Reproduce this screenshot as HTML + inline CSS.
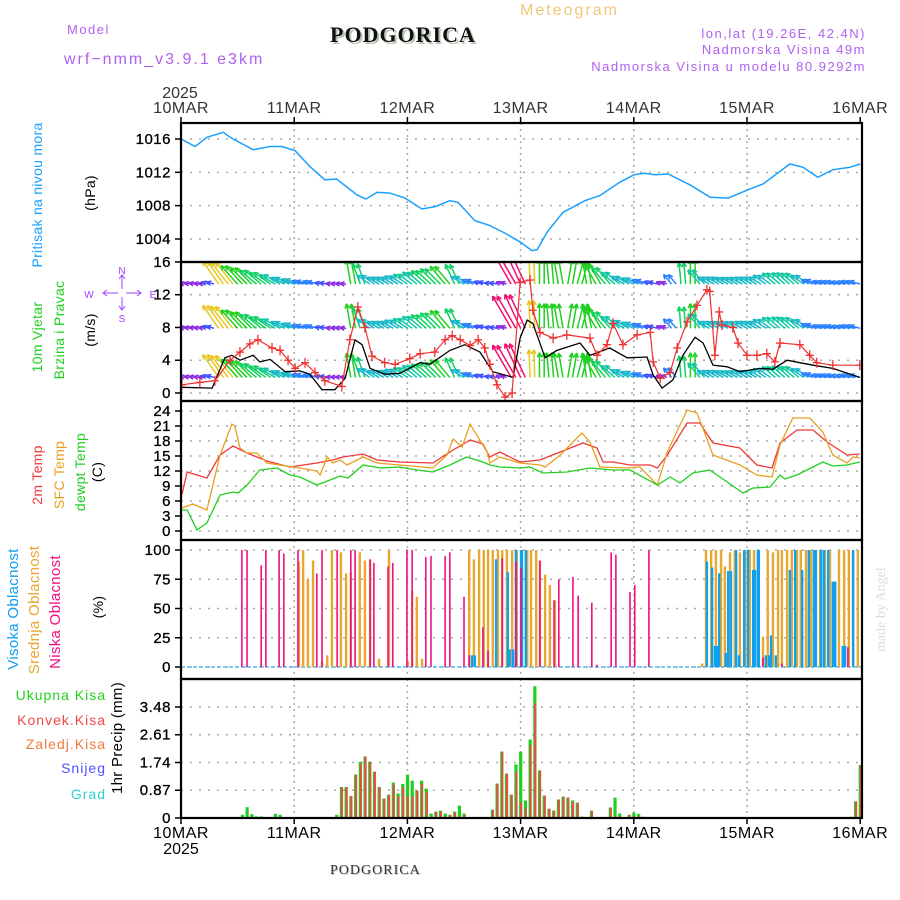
<!DOCTYPE html>
<html><head><meta charset="utf-8">
<style>
html,body{margin:0;padding:0;background:#fff;}
svg{display:block;font-family:"Liberation Sans",sans-serif;}
</style></head>
<body>
<svg id="chart" width="900" height="900" viewBox="0 0 900 900" xmlns="http://www.w3.org/2000/svg">
<text x="67" y="34" font-size="13" fill="#b060f0" letter-spacing="1.5">Model</text>
<text x="64" y="64" font-size="16" fill="#b060f0" letter-spacing="2">wrf−nmm_v3.9.1 e3km</text>
<text x="332" y="44" font-size="22" font-weight="bold" font-family="Liberation Serif,serif" fill="#b8c8b0" letter-spacing="1">PODGORICA</text>
<text x="330" y="42" font-size="22" font-weight="bold" font-family="Liberation Serif,serif" fill="#111" letter-spacing="1">PODGORICA</text>
<text x="520" y="15" font-size="16" fill="#f0c878" letter-spacing="2">Meteogram</text>
<text x="866" y="38" font-size="13" fill="#b060f0" text-anchor="end" letter-spacing="1.5">lon,lat (19.26E, 42.4N)</text>
<text x="866" y="54" font-size="13" fill="#b060f0" text-anchor="end" letter-spacing="1.5">Nadmorska Visina 49m</text>
<text x="866" y="71" font-size="13" fill="#b060f0" text-anchor="end" letter-spacing="1.5">Nadmorska Visina u modelu 80.9292m</text>
<text x="331" y="875" font-size="14" font-family="Liberation Serif,serif" fill="#c8c8c8" letter-spacing="1">PODGORICA</text>
<text x="330" y="874" font-size="14" font-family="Liberation Serif,serif" fill="#333" letter-spacing="1">PODGORICA</text>
<text transform="translate(885,652) rotate(-90)" font-size="14" font-family="Liberation Serif,serif" fill="#dcdcdc">made by Angel</text>
<g id="axes"></g>
</svg>
<script>
// ---------- DATA ----------
const dayLabels = ["10MAR","11MAR","12MAR","13MAR","14MAR","15MAR","16MAR"];
const presHours = [0,3,5.5,9,10.4,15.3,18.9,21.4,24.2,27.3,30.5,33,37.3,39.2,41.6,44.3,47.5,51.1,54,57,58.7,62.3,65.5,68.7,72,74.4,75.5,77.6,81,85.7,88.8,93,96,98.2,100.5,103.3,107.9,112.2,116,120.2,123.4,129.1,131.9,135,138.2,141.8,144];
const presVals = [1016.0,1015.1,1016.2,1016.8,1016.2,1014.7,1015.1,1015.1,1014.6,1012.7,1011.1,1011.2,1009.3,1008.8,1009.6,1009.5,1008.9,1007.6,1007.9,1008.6,1008.4,1006.2,1005.6,1004.7,1003.6,1002.6,1002.7,1004.8,1007.2,1008.6,1009.2,1010.8,1011.7,1011.9,1011.7,1011.8,1010.5,1009.0,1008.9,1009.9,1010.6,1013.0,1012.6,1011.4,1012.3,1012.6,1013.0];
const presTicks = [1004,1008,1012,1016];

const spdHours = [0.2,6.6,9.3,10.8,12.5,15.3,16.7,18.9,22.1,25.2,27.3,29.9,32.6,34.8,36.9,38.4,40.1,43.2,46.4,50.7,52.8,57.0,60.2,63.4,66.1,70.4,71.9,73.4,74.6,77.2,79.7,84.6,86.7,90.9,94.6,98.8,100.1,102.0,104.3,106.4,109.0,110.7,112.8,115.8,118.5,122.7,125.5,128.5,131.2,134.0,138.2,143.9];
const spdVals = [0.7,0.6,4.3,4.6,4.0,4.6,3.8,4.1,2.6,2.7,2.3,0.4,0.4,1.8,6.5,5.9,3.0,2.3,2.4,3.7,3.5,5.2,5.9,5.0,2.6,1.9,6.7,8.9,8.5,4.3,5.2,6.1,4.6,5.5,4.3,4.4,2.2,0.6,1.6,4.6,6.8,6.1,3.4,3.2,2.6,3.0,2.9,4.0,3.7,3.4,3.0,1.9];
const gustHours = [0.2,4.0,7.2,10.4,12.5,14.6,16.3,19.3,21.0,22.7,24.2,26.3,28.4,30.5,34.1,35.8,37.5,39.0,40.5,43.2,45.4,48.5,50.7,53.8,56.0,57.5,59.2,61.3,63.0,64.4,65.5,67.0,68.7,70.2,71.9,74.0,74.6,76.1,78.9,81.8,86.7,88.2,90.3,91.6,93.7,96.7,99.5,100.1,101.6,103.7,105.2,107.3,109.4,111.5,112.1,113.2,114.1,114.7,117.0,118.1,120.0,122.1,124.2,125.9,127.0,131.2,133.3,134.8,138.2,143.9];
const gustVals = [1.0,1.3,1.5,4.0,5.0,6.0,6.5,5.5,5.2,4.0,3.0,3.7,2.5,1.5,0.8,6.5,10.5,8.0,4.5,3.7,3.5,4.2,4.8,5.0,6.5,7.0,6.5,5.8,6.5,5.5,3.5,1.0,-0.5,0,13.5,13.8,10.1,7.4,6.7,7.1,6.7,4.6,5.9,8.5,5.9,7.1,7.4,3.8,1.8,2.5,5.5,8.7,10.7,12.6,12.4,4.6,9.9,8.3,8.0,6.1,4.6,4.6,4.8,3.8,6.1,5.9,4.6,3.7,3.4,3.4];
const windHours = [0,2,4,6,8,10,12,14,16,18,20,22,24,26,28,30,32,34,36,38,40,42,44,46,48,50,52,54,56,58,60,62,64,66,68,70,72,74,76,78,80,82,84,86,88,90,92,94,96,98,100,102,104,106,108,110,112,114,116,118,120,122,124,126,128,130,132,134,136,138,140,142,144];
const windSpd = [2,2,2,2.5,9,9,8,7.5,7,6.5,6,5,4.5,4,3.5,2.5,2,2,8,7,5,4.5,4.5,5,5.5,6,6.5,7,7.5,7,5,4,3,2.5,2,12,12,9,8,8,8,8,8,8,7.5,7,6,5,4.5,4,3,2,4,7,8,6,4.5,4.5,4.5,4.5,4.5,4.5,5,5.5,5.5,5.5,5,4,3.5,3.5,3.5,3.5,3.5];
const windDir = [170,170,172,165,125,128,132,135,140,145,150,155,160,165,165,170,175,175,100,110,145,150,150,148,145,140,138,135,130,115,150,160,165,170,160,120,115,92,90,95,100,80,75,100,120,130,140,150,155,160,165,160,130,95,90,130,150,150,152,152,150,150,145,140,138,140,145,160,165,165,168,165,165];
const windTicks = [0,4,8,12,16];

const t2Hours = [0.2,1.3,5.5,8.3,11.0,14.0,18.2,23.1,28.8,32.2,34.3,38.6,41.6,46.4,53.4,57.0,61.3,64.0,65.5,67.6,71.9,76.1,80.4,85.2,88.2,89.5,91.6,95.2,99.5,101.0,103.1,107.3,110.0,112.8,118.5,122.1,125.3,127.0,130.6,134.0,137.0,141.2,143.9];
const t2Vals = [7.2,11.8,10.6,15.2,17.0,15.6,14.0,12.8,13.6,14.2,14.8,15.4,14.2,13.8,13.6,15.8,18.2,17.4,14.8,15.8,13.8,14.2,15.8,17.6,16.6,13.8,13.8,13.2,13.2,12.6,15.2,21.6,21.6,17.6,16.6,13.2,12.6,17.6,20.2,20.2,17.8,15.2,15.4];
const sfcHours = [0.2,2.5,5.5,8.3,10.8,11.4,12.5,14.0,16.1,18.2,25.2,28.8,29.5,31.0,32.2,33.7,35.2,38.6,41.6,53.4,56.4,57.7,59.6,61.3,64.9,65.5,67.6,71.9,76.1,77.2,80.4,85.0,86.7,88.8,94.6,97.3,101.0,103.1,107.3,109.4,112.8,118.5,122.1,125.3,127.0,129.7,133.3,136.1,138.2,141.2,142.5,143.9];
const sfcVals = [4.6,5.4,4.2,15.2,21.4,21.0,16.6,15.6,15.6,13.6,12.6,12.0,11.2,14.8,13.6,14.2,13.2,14.8,13.6,12.6,15.2,18.4,16.8,21.4,15.8,13.6,14.8,13.6,13.2,12.8,15.2,19.6,17.8,12.8,12.6,12.8,9.2,15.8,24.2,23.6,15.2,13.2,11.2,10.8,17.2,22.6,22.6,19.8,15.2,13.6,14.8,14.6];
const dewHours = [0.2,1.3,3.4,5.5,8.3,11.0,12.1,14.0,16.7,20.4,23.1,25.2,28.8,31.6,33.7,35.4,38.6,42.2,46.4,50.0,53.4,57.0,60.6,64.0,65.5,67.6,71.9,74.0,76.7,81.8,86.7,91.6,95.2,101.0,103.7,105.8,108.5,112.1,115.8,119.1,121.3,124.9,127.0,128.0,130.6,136.1,138.2,141.2,143.9];
const dewVals = [4.2,4.2,0.2,1.6,7.2,7.8,7.6,9.2,12.2,12.6,11.2,10.8,9.2,10.2,11.0,10.6,13.2,12.6,12.8,12.2,11.8,13.2,14.8,13.8,13.2,12.8,12.6,12.8,11.6,11.8,12.6,12.2,12.2,9.2,10.8,9.6,11.6,12.2,9.8,7.6,8.6,8.8,11.2,10.4,11.2,13.8,13.0,13.2,13.8];
const tempTicks = [0,3,6,9,12,15,18,21,24];

const lowHours = [12.9,14.0,17.0,18.0,20.8,21.8,24.8,28.8,29.9,33.1,36.0,36.9,40.1,40.9,43.9,44.9,47.9,49.0,51.9,53.0,56.0,57.0,60.0,61.1,64.0,65.1,68.1,71.0,72.1,76.1,79.1,80.1,83.1,84.2,87.1,88.2,91.2,92.2,95.2,96.2,99.2,123.4,127.4,141.4];
const lowVals = [100,100,87,100,100,97,100,80,100,100,100,100,92,89,86,89,100,100,94,95,95,98,60,10,34,14,93,90,85,91,57,75,77,61,55,2,98,96,64,70,100,8,3,17];
const midHours = [25.0,25.9,26.9,28.0,29.9,31.0,32.0,33.9,35.0,36.0,37.9,39.0,40.1,42.0,44.1,48.1,49.0,50.0,51.1,61.1,62.1,63.2,64.2,65.1,66.1,67.2,68.1,69.1,70.2,71.2,73.4,74.2,75.3,76.1,77.2,78.2,79.3,110.5,111.3,112.4,113.4,114.5,115.3,116.4,117.4,118.5,119.6,120.6,121.5,122.5,123.4,124.4,125.5,126.6,127.4,128.5,129.5,130.6,131.4,132.5,133.6,134.6,135.5,136.5,137.6,138.6,139.5,140.6,141.6,142.5,143.5];
const midVals = [90,100,75,91,5,10,100,98,80,81,98,91,92,7,100,5,65,60,7,100,92,100,100,100,100,100,100,100,100,100,100,100,100,91,79,70,57,3,100,100,100,100,86,98,100,98,100,100,100,18,26,100,98,100,100,100,100,100,100,100,100,100,100,100,100,73,100,100,100,100,100];
const highHours = [61.7,62.3,66.8,69.3,69.7,70.4,71.0,72.1,72.3,73.1,111.5,112.6,113.2,113.6,114.1,115.5,116.0,116.6,117.7,118.3,119.4,120.2,121.3,121.7,122.3,122.5,124.0,124.7,125.1,126.1,129.1,130.2,131.7,133.1,134.2,134.6,135.7,136.3,137.2,138.2,138.7,140.3,140.8,142.5];
const highVals = [10,10,92,81,15,15,100,100,100,100,90,85,18,18,80,12,82,82,100,10,100,100,83,83,100,100,10,10,27,10,83,100,83,100,100,100,100,100,100,73,73,18,18,100];
const cloudTicks = [0,25,50,75,100];

const precHours = [13,14,15,16,17,20,21,33,34,35,36,37,38,39,40,41,42,43,44,45,46,47,48,49,50,51,52,53,54,55,56,57,58,59,60,66,67,68,69,70,71,72,73,74,75,76,77,78,79,80,81,82,83,84,85,87,91,92,93,95,96,97,98,142,143,144];
const precTotal = [0.1,0.34,0.12,0.05,0.05,0.13,0.1,0.1,0.97,0.97,0.69,1.36,1.76,1.93,1.76,1.45,0.97,0.61,0.73,1.11,0.77,1.07,1.36,1.17,0.86,1.17,0.92,0.14,0.2,0.23,0.14,0.1,0.2,0.39,0.14,0.26,1.08,2.08,1.39,0.73,1.68,2.08,0.55,2.46,4.13,1.49,0.7,0.29,0.23,0.58,0.67,0.64,0.55,0.48,0.04,0.23,0.33,0.64,0.14,0.1,0.17,0.13,0.04,0.04,0.52,1.66];
const precConv = [0,0,0,0,0,0,0,0,0.97,0.97,0.69,1.36,1.7,1.93,1.76,1.45,0.97,0.61,0.73,1.05,0.69,0.97,0.68,0.68,0.86,1.07,0.82,0,0.2,0.2,0.05,0.1,0.18,0.05,0.1,0.26,1.08,2.08,1.39,0.73,1.45,0.5,0.3,2.3,3.6,1.49,0.7,0.29,0.23,0.58,0.67,0.64,0.5,0.48,0.04,0.23,0.33,0.05,0.05,0.1,0.05,0.05,0,0,0.52,1.66];
const precTicks = [0.87,1.74,2.61,3.48];

// ---------- AXES ----------
const NS = "http://www.w3.org/2000/svg";
const svg = document.getElementById('axes');
const X0 = 181, X1 = 862, PXH = (860.2 - 181) / 144;
function xh(h){ return X0 + h * PXH; }
const yPres = v => 139 + (1016 - v) * 8.33;
const yWind = v => 393 - v * 8.19;
const yTemp = v => 531 - v * 5;
const yCloud = v => 667 - v * 1.17;
const yPrec = v => 818 - v * 31.9;
const panels = [[123,262],[262,401],[401,540],[540,679],[679,818]];

function el(tag, attrs, parent){
  const e = document.createElementNS(NS, tag);
  for (const k in attrs) e.setAttribute(k, attrs[k]);
  (parent || svg).appendChild(e);
  return e;
}
function txt(s, attrs, parent){ const e = el('text', attrs, parent); e.textContent = s; return e; }

const defs = el('defs', {});
panels.forEach((p,i)=>{
  const cp = el('clipPath', {id:'clip'+i}, defs);
  el('rect', {x:X0, y:p[0], width:X1-X0, height:p[1]-p[0]}, cp);
});

panels.forEach((p,i)=>{
  for (let d=1; d<6; d++){
    const gl = el('line', {x1:xh(d*24), x2:xh(d*24), y1:p[0], y2:p[1], stroke:'#aaa', 'stroke-width':1.5, 'stroke-dasharray':'2,4'});
    
    
  }
});
function hgrid(ticks, yf, labelFmt, name){
  ticks.forEach(t=>{
    const y = yf(t);
    const gl = el('line', {x1:X0, x2:X1, y1:y, y2:y, stroke:'#aaa', 'stroke-width':1.5, 'stroke-dasharray':'2,7'});
    
    
    el('line', {x1:X0-6, x2:X0, y1:y, y2:y, stroke:'#000', 'stroke-width':1.5});
    const lb = txt(labelFmt(t), {x:171, y:y+5, 'font-size':15, 'text-anchor':'end', fill:'#000', 'letter-spacing':0.5, stroke:'#000', 'stroke-width':0.3});
    
    
  });
}
hgrid(presTicks, yPres, t=>String(t), 'pressure');
hgrid(windTicks, yWind, t=>String(t), 'wind');
hgrid(tempTicks, yTemp, t=>String(t), 'temp');
hgrid(cloudTicks, yCloud, t=>String(t), 'cloud');
hgrid(precTicks, yPrec, t=>t.toFixed(2), 'precip');
hgrid([0], yPrec, t=>'0', 'precip');

dayLabels.forEach((d,i)=>{
  const x = xh(i*24);
  const t1 = txt(d, {x:x, y:113, 'font-size':16, 'text-anchor':'middle', fill:'#333', 'letter-spacing':0.5});
  
  
  const t2 = txt(d, {x:x, y:838, 'font-size':16, 'text-anchor':'middle', fill:'#000', 'letter-spacing':0.5});
  
  
  el('line', {x1:x, x2:x, y1:117, y2:123, stroke:'#000', 'stroke-width':1.5});
  el('line', {x1:x, x2:x, y1:818, y2:824, stroke:'#000', 'stroke-width':1.5});
});
const y1 = txt('2025', {x:180, y:98, 'font-size':16, 'text-anchor':'middle', fill:'#333'});


const y2 = txt('2025', {x:181, y:854, 'font-size':16, 'text-anchor':'middle', fill:'#000'});



function line(hours, vals, yf, color, clipI, name, w){
  const pts = hours.map((h,i)=> xh(h).toFixed(1)+','+yf(vals[i]).toFixed(1)).join(' ');
  const p = el('polyline', {points:pts, fill:'none', stroke:color, 'stroke-width':w||1.3, 'clip-path':'url(#clip'+clipI+')'});
  
  
  return p;
}

line(presHours, presVals, yPres, '#1aa0ff', 0, 'pressure-line', 1.5);

// wind arrows
function windColor(s){
  if (s < 2.3) return '#8a2be2';
  if (s < 3.2) return '#4050ff';
  if (s < 4.2) return '#2a80ff';
  if (s < 5.2) return '#18b8c8';
  if (s < 6.2) return '#10c8a0';
  if (s < 7.2) return '#10d060';
  if (s < 8.2) return '#20d020';
  if (s < 9.5) return '#e8c820';
  if (s < 11) return '#f08030';
  return '#f01070';
}
const windRows = [13.3, 7.9, 1.9];
const wg = el('g', {'clip-path':'url(#clip1)'});
function arrow(x0, yb, s, dirDeg){
  const a = dirDeg*Math.PI/180, L = s*3.1;
  const x2 = x0 + Math.cos(a)*L, y2 = yb - Math.sin(a)*L;
  const g = el('g', {stroke:windColor(s), 'stroke-width':1.5, fill:'none'}, wg);
  
  
  el('line', {x1:x0, y1:yb, x2:x2, y2:y2}, g);
  const hl = 5, ha = 0.45;
  el('line', {x1:x2, y1:y2, x2:x2 - Math.cos(a-ha)*hl, y2:y2 + Math.sin(a-ha)*hl}, g);
  el('line', {x1:x2, y1:y2, x2:x2 - Math.cos(a+ha)*hl, y2:y2 + Math.sin(a+ha)*hl}, g);
}
windRows.forEach(base=>{
  windHours.forEach((h,i)=>{
    const yb = yWind(base);
    arrow(xh(h), yb, windSpd[i], windDir[i]);
    if (i < windHours.length-1) arrow(xh(h+1), yb, windSpd[i], windDir[i]);
  });
});
line(spdHours, spdVals, yWind, '#000', 1, 'wind-speed-line', 1.3);
line(gustHours, gustVals, yWind, '#f03030', 1, 'wind-gust-line', 1.2);
const gm = el('g', {stroke:'#f03030', 'stroke-width':1.3, 'clip-path':'url(#clip1)'});
gustHours.forEach((h,i)=>{
  const x = xh(h), y = yWind(gustVals[i]);
  const p = el('path', {d:`M${x-4},${y}H${x+4}M${x},${y-5}V${y+5}`}, gm);
  
  
});

line(t2Hours, t2Vals, yTemp, '#f03838', 2, 'temp-2m-line', 1.3);
line(sfcHours, sfcVals, yTemp, '#e8a020', 2, 'temp-sfc-line', 1.3);
line(dewHours, dewVals, yTemp, '#20d020', 2, 'dewpoint-line', 1.3);

el('line', {x1:X0, x2:X1, y1:yCloud(0), y2:yCloud(0), stroke:'#58b8f0', 'stroke-width':1.5, 'stroke-dasharray':'4,2'});
function cbars(hours, vals, color, w, name){
  const g = el('g', {'clip-path':'url(#clip3)'});
  hours.forEach((h,i)=>{
    const y = yCloud(vals[i]);
    const r = el('rect', {x:xh(h)-w/2, y:y, width:w, height:yCloud(0)-y, fill:color}, g);
    
    
  });
}
cbars(midHours, midVals, '#e8a830', 2.4, 'mid-cloud-bar');
cbars(highHours, highVals, '#10a0f0', 2.4, 'high-cloud-bar');
cbars(lowHours, lowVals, '#f01080', 1.6, 'low-cloud-bar');

const pg = el('g', {'clip-path':'url(#clip4)'});
precHours.forEach((h,i)=>{
  const x = xh(h);
  const yt = yPrec(precTotal[i]);
  const r = el('rect', {x:x-1.5, y:yt, width:3.2, height:818-yt, fill:'#20d020'}, pg);
  
  
  if (precConv[i] > 0){
    const yc = yPrec(precConv[i]);
    const rc = el('rect', {x:x-0.5, y:yc, width:2, height:818-yc, fill:'#f04848'}, pg);
    
    
  }
});

panels.forEach((p,i)=>{
  const r = el('rect', {x:X0, y:p[0], width:X1-X0, height:p[1]-p[0], fill:'none', stroke:'#000', 'stroke-width':2.2});
  
  
});

function vlabel(s, x, y, color, name, size){
  const t = txt(s, {transform:`translate(${x},${y}) rotate(-90)`, 'font-size':size||14, fill:color, 'text-anchor':'middle', 'letter-spacing':0.3});
  
  
}
vlabel('Pritisak na nivou mora', 42, 195, '#1aa0ff', 'pressure-title');
vlabel('(hPa)', 95, 193, '#000', 'pressure-unit');
vlabel('10m Vjetar', 42, 337, '#20d020', 'wind-title-1');
vlabel('Brzina i Pravac', 64, 330, '#20d020', 'wind-title-2');
vlabel('(m/s)', 95, 330, '#000', 'wind-unit');
vlabel('2m Temp', 42, 475, '#f03838', 'temp-2m-title');
vlabel('SFC Temp', 64, 475, '#e8a020', 'temp-sfc-title');
vlabel('dewpt Temp', 85, 472, '#20d020', 'dewpoint-title');
vlabel('(C)', 102, 472, '#000', 'temp-unit');
vlabel('Visoka Oblacnost', 18, 609, '#10a0f0', 'high-cloud-title', 15);
vlabel('Srednja Oblacnost', 39, 610, '#e8a830', 'mid-cloud-title', 15);
vlabel('Niska Oblacnost', 60, 612, '#f01080', 'low-cloud-title', 15);
vlabel('(%)', 103, 607, '#000', 'cloud-unit');
vlabel('1hr Precip (mm)', 122, 738, '#000', 'precip-unit', 15);
const legend = [['Ukupna  Kisa','#20d020',700],['Konvek.Kisa','#f04848',725],['Zaledj.Kisa','#f07840',749],['Snijeg','#5050ff',773],['Grad','#30d0d0',799]];
legend.forEach(l=>{
  const t = txt(l[0], {x:106, y:l[2], 'font-size':14, fill:l[1], 'text-anchor':'end', 'letter-spacing':1, 'xml:space':'preserve'});
  
  
});

const cr = el('g', {stroke:'#a040ff', 'stroke-width':1, fill:'none'});


el('path', {d:'M122,276V289M122,297V309M104,293H118M126,293H140M119,279L122,275L125,279M119,306L122,310L125,306M107,290L103,293L107,296M137,290L141,293L137,296'}, cr);
[['N',122,274],['S',122,322],['W',89,298],['E',153,298]].forEach(c=>{
  const t = txt(c[0], {x:c[1], y:c[2], 'font-size':10, fill:'#a040ff', 'text-anchor':'middle'});
  
  
});
</script>
</body></html>
